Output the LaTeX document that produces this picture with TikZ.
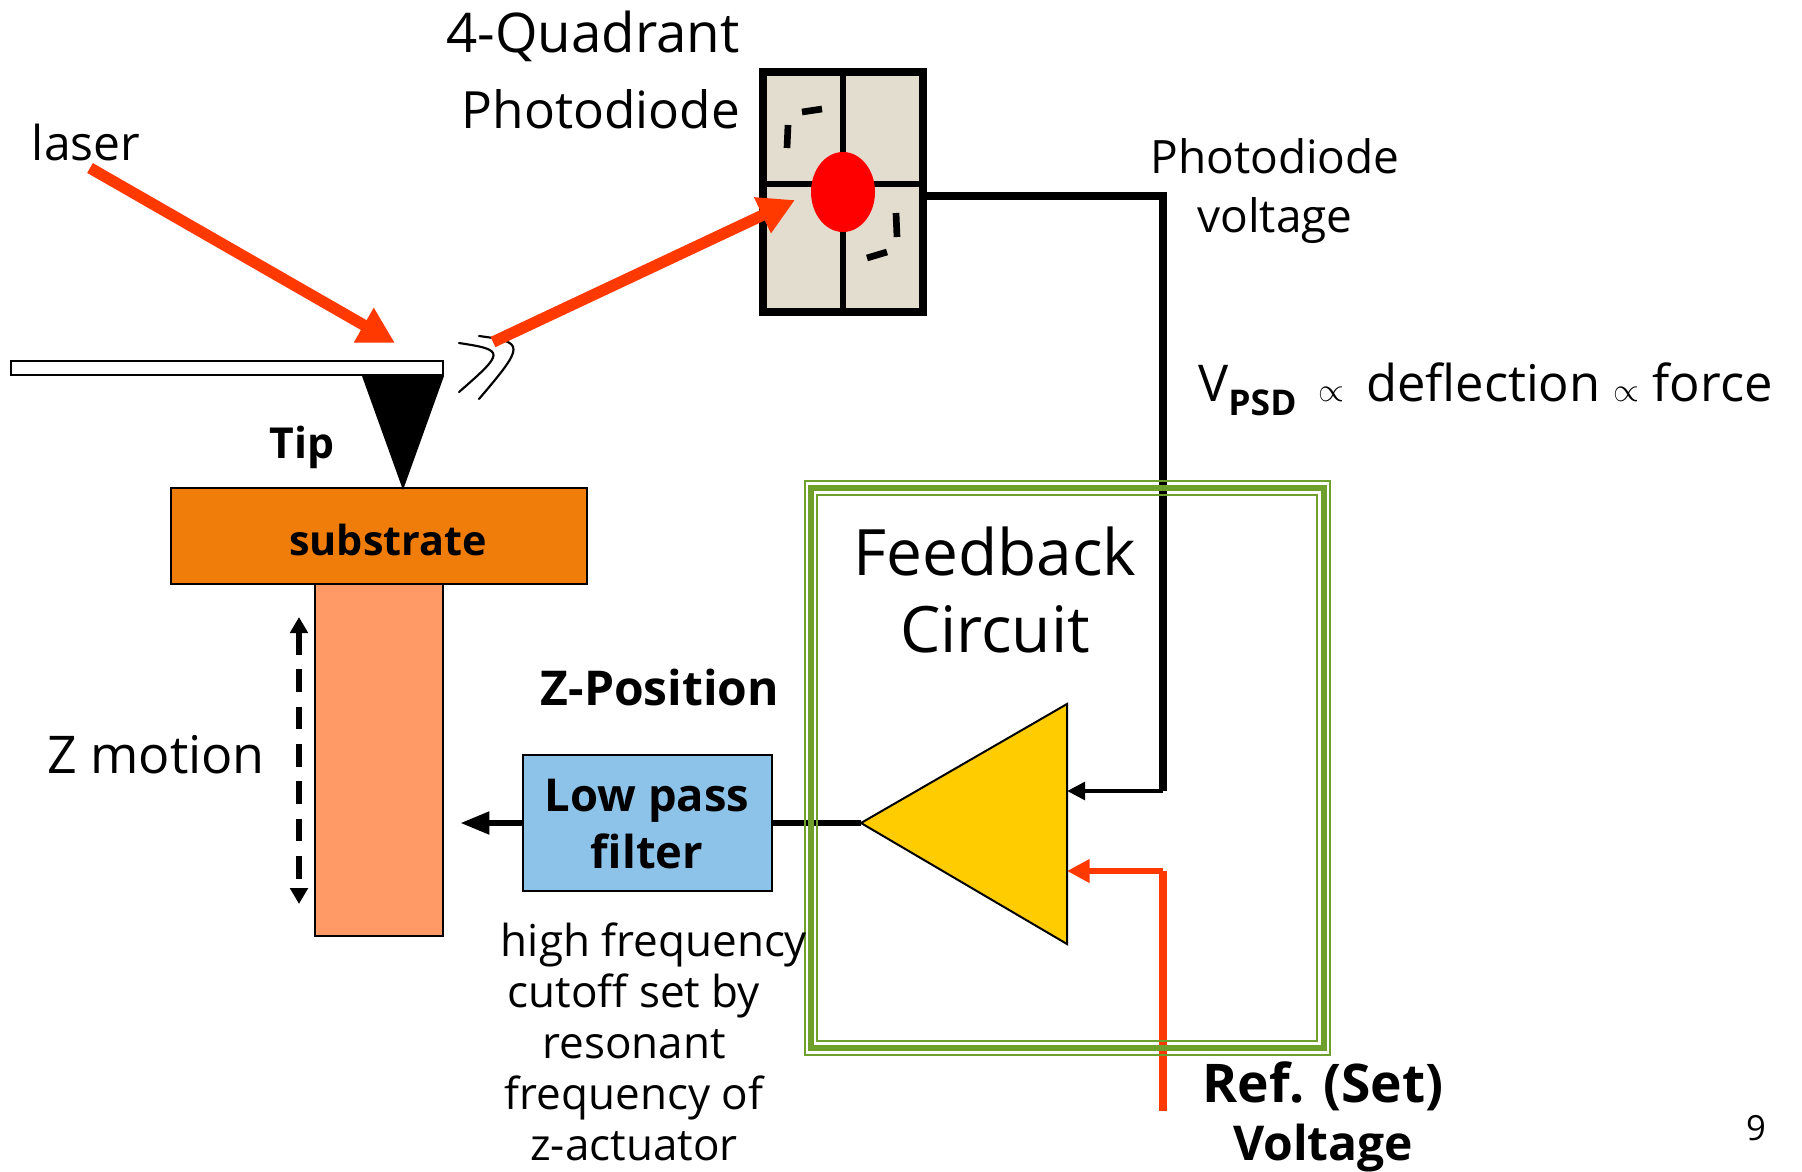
\documentclass[tikz,border=0pt]{standalone}
\usepackage{fontspec}
\setmainfont{Open Sans}
\usetikzlibrary{arrows.meta, shapes.geometric}

\definecolor{laserred}{HTML}{FF3900}
\definecolor{diodegray}{HTML}{E3DDD0}
\definecolor{framegreen}{HTML}{6FA02C}
\definecolor{substrateorange}{HTML}{F07D0A}
\definecolor{piezosalmon}{HTML}{FF9966}
\definecolor{filterblue}{HTML}{8DC3E8}
\definecolor{ampyellow}{HTML}{FFCC00}

\tikzset{
  every node/.style={inner sep=0pt, align=center},
  hugetext/.style={font=\fontsize{48}{58}\selectfont},
  bigtext/.style={font=\fontsize{39}{49}\selectfont},
  midtext/.style={font=\fontsize{34.5}{44}\selectfont},
  smalltext/.style={font=\fontsize{33}{38.3}\selectfont},
  boldtext/.style={font=\fontsize{36}{43}\selectfont\bfseries},
  block/.style={draw=black, line width=1.5pt},
  wire/.style={line width=6pt, black},
  thinwire/.style={line width=3.6pt, black, -{Triangle[length=13.5pt,width=13pt]}},
  refwire/.style={line width=6pt, laserred},
  thinrefwire/.style={line width=4pt, laserred, -{Triangle[length=17pt,width=17pt]}},
  beam/.style={line width=8.5pt, laserred, -{Triangle[length=27pt,width=28pt]}},
  tick/.style={line width=5pt, black},
  mirror/.style={line width=1.6pt, black, line cap=round}
}

\begin{document}
\begin{tikzpicture}[x=0.75pt, y=-0.75pt]
  \useasboundingbox (0,0) rectangle (1802,1171);

  % Sample stage
  \node[block, fill=piezosalmon, minimum width=96pt, minimum height=264pt] (Piezo) at (379,760) {};
  \node[block, fill=substrateorange, minimum width=312pt, minimum height=72pt] (Substrate) at (379,536) {};
  \node[font=\fontsize{31}{36}\selectfont\bfseries] (SubstrateText) at (388,540) {substrate};

  % Cantilever and tip
  \node[draw=black, line width=1.5pt, fill=white, minimum width=324pt, minimum height=11pt] (Cantilever) at (227,368) {};
  \fill[black] (362,376) -- (444,376) -- (403,490) -- cycle;
  \node[font=\fontsize{32}{36}\selectfont\bfseries] (TipText) at (302,447) {Tip};

  % Bend marks beside the cantilever end
  \draw[mirror] (459,343) .. controls (505,350) and (505,352) .. (459,392);
  \draw[mirror] (479,336) .. controls (525,342) and (525,345) .. (479,399);

  % Photodiode
  \node[draw=black, line width=6pt, fill=diodegray, minimum width=120pt, minimum height=180pt] (Diode) at (843,192) {};
  \coordinate (DiodeLeft) at (763,184);
  \coordinate (DiodeRight) at (923,184);
  \draw[line width=4.5pt] (Diode.north) -- (Diode.south);
  \draw[line width=4.5pt] (DiodeLeft) -- (DiodeRight);
  \node[ellipse, fill=red, minimum width=48pt, minimum height=60pt] (Spot) at (843,192) {};
  \draw[tick] (802,112) -- (822,109);
  \draw[tick] (788,125) -- (787,148);
  \draw[tick] (896,213) -- (897,237);
  \draw[tick] (867,258) -- (887,252);

  % Laser path
  \coordinate (LaserStart) at (90,168);
  \coordinate (LaserHit) at (395,343);
  \coordinate (BeamStart) at (493,342);
  \coordinate (BeamEnd) at (795,200);
  \path[beam] (LaserStart) edge (LaserHit);
  \path[beam] (BeamStart) edge (BeamEnd);

  % Amplifier
  \coordinate (AmpTop) at (1067,704);
  \coordinate (AmpBottom) at (1067,944);
  \coordinate (AmpOut) at (861,823);
  \coordinate (AmpIn) at (1067,791);
  \coordinate (AmpRef) at (1067,871);

  % Wires
  \coordinate (DiodeWire) at (927,196);
  \coordinate (CornerA) at (1163,196);
  \coordinate (CornerB) at (1163,791);
  \coordinate (CornerC) at (1163,871);
  \coordinate (RefEnd) at (1163,1111);
  \draw[wire] (DiodeWire) -- (CornerA) -- (CornerB);
  \path[thinwire] (CornerB) edge (AmpIn);
  \draw[refwire] (RefEnd) -- (CornerC);
  \path[thinrefwire] (CornerC) edge (AmpRef);

  % Low pass filter
  \node[block, fill=filterblue, minimum width=186.5pt, minimum height=102pt] (Filter) at (647.5,823) {};
  \coordinate (FilterOut) at (460,823);
  \draw[line width=5pt] (AmpOut) -- (Filter.east);
  \path[line width=5pt, -{Triangle[length=22pt,width=16pt]}] (Filter.west) edge (FilterOut);
  \node[font=\fontsize{34}{43}\selectfont\bfseries] (FilterText) at (647,824) {Low pass\\filter};

  % Feedback frame
  \draw[framegreen, line width=2pt] (805,481) rectangle (1330,1055);
  \draw[framegreen, line width=4.5pt] (811,488) rectangle (1324,1048);
  \draw[framegreen, line width=2pt] (817,495) rectangle (1317,1041);
  \draw[fill=ampyellow, line width=1.5pt] (AmpOut) -- (AmpTop) -- (AmpBottom) -- cycle;

  % Z motion
  \coordinate (MotionTop) at (299,617);
  \coordinate (MotionBottom) at (299,904);
  \path[line width=4.5pt, dash pattern=on 17pt off 11pt, {Triangle[length=12pt,width=13pt]}-{Triangle[length=12pt,width=13pt]}] (MotionTop) edge (MotionBottom);

  % Labels
  \node[font=\fontsize{41}{49}\selectfont] (QuadText) at (593,36) {4-Quadrant};
  \node[font=\fontsize{38.5}{49}\selectfont] (DiodeText) at (601,109) {Photodiode};
  \node[font=\fontsize{36}{38}\selectfont] (LaserText) at (86,142) {laser};
  \node[midtext] (VoltageText) at (1275,191) {Photodiode\\voltage};
  \node[font=\fontsize{38}{44}\selectfont, anchor=west] (ForceText) at (1198,389) {V\textsubscript{\textbf{PSD}}\ \,$\propto$\ \,deflection $\propto$ force};
  \node[hugetext] (FeedbackText) at (995,590) {Feedback\\Circuit};
  \node[boldtext] (ZPosText) at (660,687) {Z-Position};
  \node[bigtext] (MotionText) at (156,755) {Z motion};
  \node[smalltext] (CutoffText) at (634,1042) {\hspace*{30pt}high frequency\\cutoff set by\\resonant\\frequency of\\z-actuator};
  \node[boldtext] (RefText) at (1323,1117) {{\fontsize{40}{43}\selectfont Ref. (Set)}\\Voltage};
  \node[font=\fontsize{26}{30}\selectfont] (PageText) at (1756,1128) {9};
\end{tikzpicture}
\end{document}
